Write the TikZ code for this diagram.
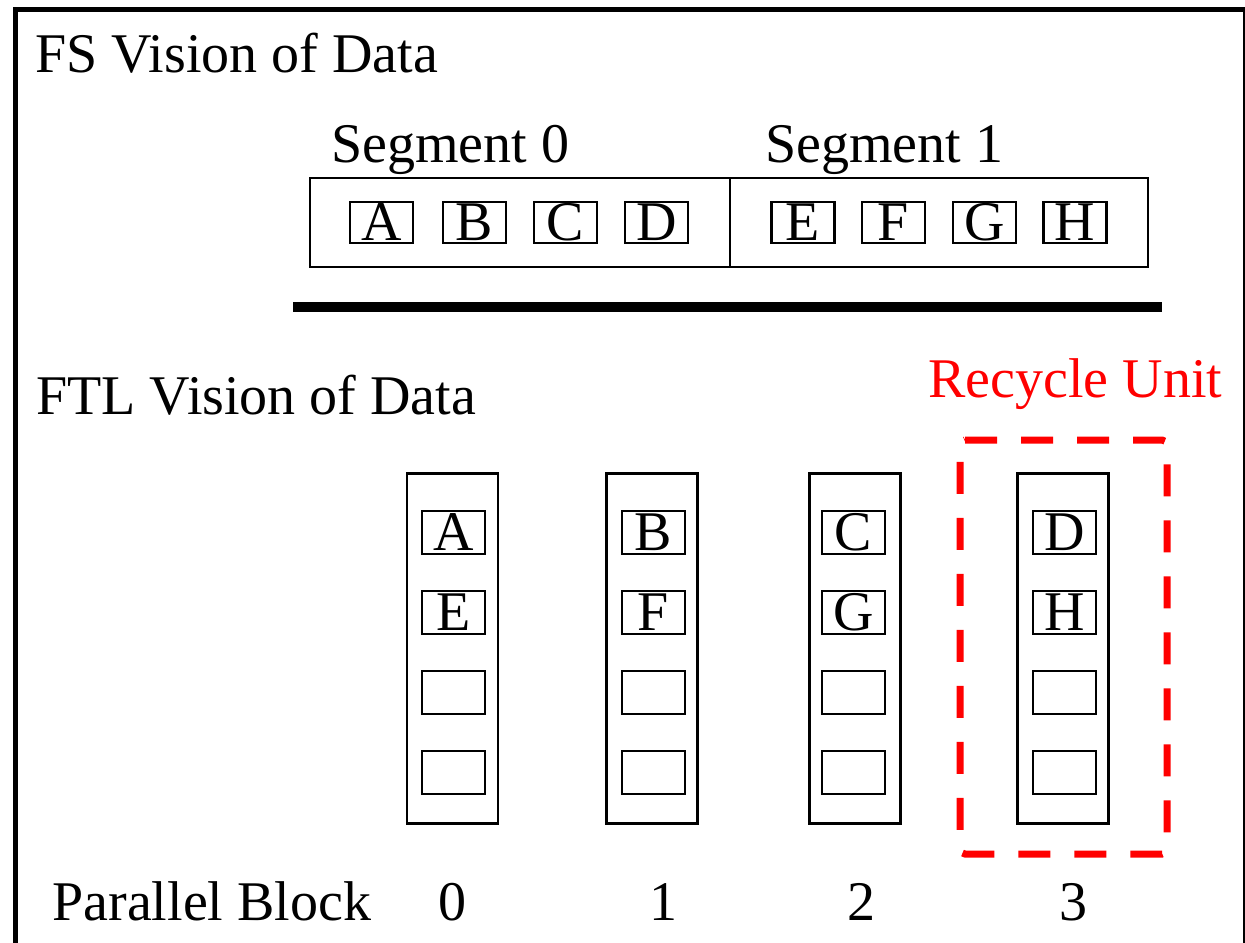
\documentclass[tikz,border=0pt]{standalone}
\usepackage{fontspec}
\setmainfont{Liberation Serif}
\begin{document}
\begin{tikzpicture}[x=0.5pt,y=-0.5pt,
  lbl/.style={inner sep=0pt, font=\fontsize{28pt}{33pt}\selectfont},
  segbox/.style={draw, line width=1pt, inner sep=0pt, minimum height=44.5pt},
  cell/.style={draw, line width=1.1pt, inner sep=0pt, minimum width=31.5pt,
    font=\fontsize{28pt}{33pt}\selectfont},
  fscell/.style={cell, minimum height=20.5pt},
  ftlcell/.style={cell, minimum height=21.5pt},
  column/.style={draw, line width=1.1pt, inner sep=0pt, minimum width=45.5pt, minimum height=175pt},
  recycle/.style={draw=red, line width=3.5pt, dash pattern=on 16pt off 12pt, rounded corners=2.5pt},
  divider/.style={line width=5pt, line cap=butt}]
\useasboundingbox (0,0) rectangle (1245,942);

% outer frame, open at the bottom edge of the page
\begin{scope}
  \clip (0,0) rectangle (1245,942);
  \draw[line width=2.5pt] (15,1000) -- (15,9) -- (1245,9) -- (1245,1000);
\end{scope}

% file system view
\node[lbl, anchor=base west] (fstitle) at (35,72) {FS Vision of Data};
\node[lbl, anchor=base west] (seg0lbl) at (331,162) {Segment 0};
\node[lbl, anchor=base west] (seg1lbl) at (765,162) {Segment 1};
\node[segbox, minimum width=210pt] (seg0) at (520,222.5) {};
\node[segbox, minimum width=209pt] (seg1) at (939,222.5) {};

\node[fscell] (sA) at (381.5,222.5) {A};
\node[fscell] (sB) at (474.5,222.5) {B};
\node[fscell] (sC) at (565.5,222.5) {C};
\node[fscell] (sD) at (656.5,222.5) {D};
\node[fscell] (sE) at (803,222.5) {E};
\node[fscell] (sF) at (893.5,222.5) {F};
\node[fscell] (sG) at (984.5,222.5) {G};
\node[fscell] (sH) at (1075,222.5) {H};

% separator between the two views
\coordinate (barL) at (293,307);
\coordinate (barR) at (1162,307);
\draw[divider] (barL) -- (barR);

% FTL view
\node[lbl, anchor=base west] (ftltitle) at (36,414) {FTL Vision of Data};
\node[lbl, anchor=base west, text=red] (rulbl) at (928,397) {Recycle Unit};

\node[column] (blk0) at (452.5,648.5) {};
\node[column] (blk1) at (652,648.5) {};
\node[column] (blk2) at (855,648.5) {};
\node[column] (blk3) at (1063,648.5) {};

\node[ftlcell] (b0a) at (453.5,532.5) {A};
\node[ftlcell] (b0b) at (453.5,612.5) {E};
\node[ftlcell] (b0c) at (453.5,692.5) {};
\node[ftlcell] (b0d) at (453.5,772.5) {};

\node[ftlcell] (b1a) at (653.5,532.5) {B};
\node[ftlcell] (b1b) at (653.5,612.5) {F};
\node[ftlcell] (b1c) at (653.5,692.5) {};
\node[ftlcell] (b1d) at (653.5,772.5) {};

\node[ftlcell] (b2a) at (853.5,532.5) {C};
\node[ftlcell] (b2b) at (853.5,612.5) {G};
\node[ftlcell] (b2c) at (853.5,692.5) {};
\node[ftlcell] (b2d) at (853.5,772.5) {};

\node[ftlcell] (b3a) at (1064.5,532.5) {D};
\node[ftlcell] (b3b) at (1064.5,612.5) {H};
\node[ftlcell] (b3c) at (1064.5,692.5) {};
\node[ftlcell] (b3d) at (1064.5,772.5) {};

% recycle unit outline
\draw[recycle] (960,440) -- (1167,440) -- (1167,854) -- (960,854) -- cycle;

% block numbering
\node[lbl, anchor=base west] (pblbl) at (52,920) {Parallel Block};
\node[lbl, anchor=base] (n0) at (452,920) {0};
\node[lbl, anchor=base] (n1) at (663,920) {1};
\node[lbl, anchor=base] (n2) at (861,920) {2};
\node[lbl, anchor=base] (n3) at (1073,920) {3};
\end{tikzpicture}
\end{document}
